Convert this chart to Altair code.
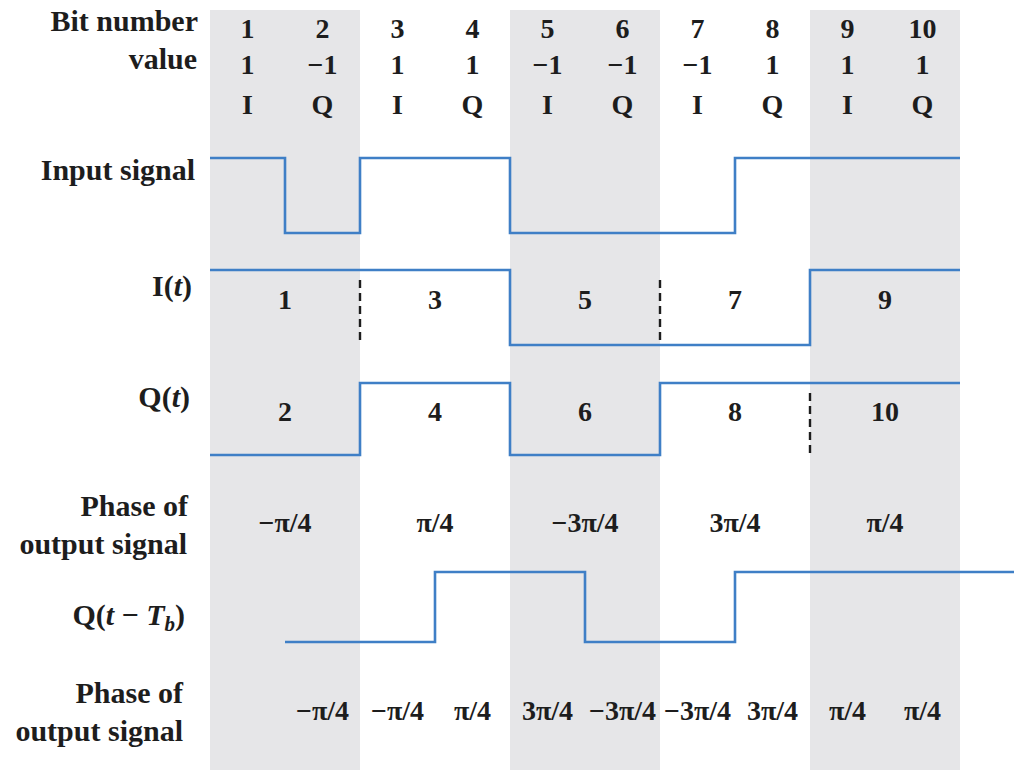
import altair as alt
import pandas as pd

# ---------------------------------------------------------------- data
bit_numbers = [1, 2, 3, 4, 5, 6, 7, 8, 9, 10]
bit_values = [1, -1, 1, 1, -1, -1, -1, 1, 1, 1]
bit_channels = ["I", "Q", "I", "Q", "I", "Q", "I", "Q", "I", "Q"]
phase_qpsk = ["−π/4", "π/4", "−3π/4", "3π/4", "π/4"]
phase_oqpsk = ["−π/4", "−π/4", "π/4", "3π/4", "−3π/4", "−3π/4", "3π/4", "π/4", "π/4"]
shaded_pairs = [(1, 2), (5, 6), (9, 10)]

i_bits, i_values = bit_numbers[0::2], bit_values[0::2]
q_bits, q_values = bit_numbers[1::2], bit_values[1::2]

# ---------------------------------------------------------------- layout / style
W, H = 1014, 778
FONT = "Liberation Serif"
INK = "#1d1d1d"
BLUE = "#3f7fc6"
BAND = "#e6e6e8"
FS = 28      # figures inside the diagram
FS_T = 30    # row titles

# vertical layout of each trace: (centre, half swing)
ROWS = {"input": (195.5, 37.5), "I": (307.5, 37.5), "Q": (419.0, 36.0), "Qd": (607.0, 35.0)}
HEADER_Y = {"num": 30, "val": 66, "chan": 106}
NUM_Y = {"I": 301, "Q": 413}
PHASE_Y = [524, 712]

# time axis in units of Tb: bit k occupies [k-1, k]
x_scale = alt.Scale(domain=[-2.8, 10.72], range=[0, W], nice=False, zero=False)
y_scale = alt.Scale(domain=[0, H], range=[0, H], nice=False, zero=False)
px_scale = alt.Scale(domain=[0, W], range=[0, W], nice=False, zero=False)


def level(row, v):
    c, h = ROWS[row]
    return c - v * h


# step traces
pts = []
for k, v in zip(bit_numbers, bit_values):
    pts.append({"row": "input", "t": k - 1, "y": level("input", v)})
pts.append({"row": "input", "t": bit_numbers[-1], "y": level("input", bit_values[-1])})
for k, v in zip(i_bits, i_values):
    pts.append({"row": "I", "t": k - 1, "y": level("I", v)})
pts.append({"row": "I", "t": i_bits[-1] + 1, "y": level("I", i_values[-1])})
for k, v in zip(q_bits, q_values):
    pts.append({"row": "Q", "t": k - 2, "y": level("Q", v)})
pts.append({"row": "Q", "t": q_bits[-1], "y": level("Q", q_values[-1])})
for k, v in zip(q_bits, q_values):
    pts.append({"row": "Qd", "t": k - 1, "y": level("Qd", v)})
pts.append({"row": "Qd", "t": q_bits[-1] + 1, "y": level("Qd", q_values[-1])})
trace_df = pd.DataFrame(pts)

# dashed markers where a symbol repeats (no transition)
dash = []
for name, bits, vals, shift in (("I", i_bits, i_values, 1), ("Q", q_bits, q_values, 0)):
    for j in range(1, len(vals)):
        if vals[j] == vals[j - 1]:
            hi = min(level(name, 1), level(name, -1))
            lo = max(level(name, 1), level(name, -1))
            dash.append({"t": bits[j] - 1 - (1 - shift), "y1": hi + 10, "y2": lo})
dash_df = pd.DataFrame(dash)

# text placed on the time axis
txt = []
for k, v, c in zip(bit_numbers, bit_values, bit_channels):
    c_t = k - 0.5
    txt.append({"t": c_t, "y": HEADER_Y["num"], "label": str(k)})
    txt.append({"t": c_t, "y": HEADER_Y["val"], "label": "−1" if v < 0 else "1"})
    txt.append({"t": c_t, "y": HEADER_Y["chan"], "label": c})
for k in i_bits:
    txt.append({"t": k, "y": NUM_Y["I"], "label": str(k)})
for k in q_bits:
    txt.append({"t": k - 1, "y": NUM_Y["Q"], "label": str(k)})
for j, p in enumerate(phase_qpsk):
    txt.append({"t": 2 * j + 1, "y": PHASE_Y[0], "label": p})
for j, p in enumerate(phase_oqpsk):
    txt.append({"t": j + 1.5, "y": PHASE_Y[1], "label": p})
text_df = pd.DataFrame(txt)

# row titles (pixel placed, right aligned; italic pieces set separately)
titles = pd.DataFrame([
    {"px": 198, "py": 22, "label": "Bit number"},
    {"px": 197, "py": 60, "label": "value"},
    {"px": 195, "py": 171, "label": "Input signal"},
    {"px": 173.7, "py": 287, "label": "I("},
    {"px": 192, "py": 287, "label": ")"},
    {"px": 171.7, "py": 398, "label": "Q("},
    {"px": 190, "py": 398, "label": ")"},
    {"px": 188, "py": 507, "label": "Phase of"},
    {"px": 187, "py": 545, "label": "output signal"},
    {"px": 105.8, "py": 616, "label": "Q("},
    {"px": 138.7, "py": 616, "label": "−"},
    {"px": 185, "py": 616, "label": ")"},
    {"px": 183, "py": 694, "label": "Phase of"},
    {"px": 183, "py": 732, "label": "output signal"},
])
titles_it = pd.DataFrame([
    {"px": 182.0, "py": 287, "label": "t"},
    {"px": 180.0, "py": 398, "label": "t"},
    {"px": 114.1, "py": 616, "label": "t"},
    {"px": 164.5, "py": 616, "label": "T"},
])
titles_sub = pd.DataFrame([{"px": 175.0, "py": 625, "label": "b"}])

# ---------------------------------------------------------------- layers
bands = alt.Chart(pd.DataFrame({
    "t0": [a - 1 for a, b in shaded_pairs],
    "t1": [b for a, b in shaded_pairs],
    "top": [10] * len(shaded_pairs),
    "bottom": [770] * len(shaded_pairs),
})).mark_rect(color=BAND).encode(
    x=alt.X("t0:Q", scale=x_scale, axis=None), x2="t1:Q",
    y=alt.Y("top:Q", scale=y_scale, axis=None), y2="bottom:Q",
)

traces = alt.Chart(trace_df).mark_line(
    interpolate="step-after", color=BLUE, strokeWidth=2.6, clip=True
).encode(
    x=alt.X("t:Q", scale=x_scale, axis=None),
    y=alt.Y("y:Q", scale=y_scale, axis=None),
    detail="row:N",
)

dashes = alt.Chart(dash_df).mark_rule(
    color=INK, strokeWidth=2.4, strokeDash=[8, 5]
).encode(
    x=alt.X("t:Q", scale=x_scale, axis=None),
    y=alt.Y("y1:Q", scale=y_scale, axis=None), y2="y2:Q",
)

labels = alt.Chart(text_df).mark_text(
    font=FONT, fontWeight="bold", fontSize=FS, color=INK, baseline="middle", align="center"
).encode(
    x=alt.X("t:Q", scale=x_scale, axis=None),
    y=alt.Y("y:Q", scale=y_scale, axis=None),
    text="label:N",
)


def title_layer(df, size, style):
    return alt.Chart(df).mark_text(
        font=FONT, fontWeight="bold", fontStyle=style, fontSize=size, color=INK,
        baseline="middle", align="right",
    ).encode(
        x=alt.X("px:Q", scale=px_scale, axis=None),
        y=alt.Y("py:Q", scale=y_scale, axis=None),
        text="label:N",
    )


chart = alt.layer(
    bands, traces, dashes, labels,
    title_layer(titles, FS_T, "normal"),
    title_layer(titles_it, FS_T, "italic"),
    title_layer(titles_sub, 21, "italic"),
).resolve_scale(x="independent", y="independent").properties(
    width=W, height=H, padding=0, autosize="none", background="white"
).configure_view(stroke=None)

chart.save("out.html", embed_options={"renderer": "svg", "actions": False})
